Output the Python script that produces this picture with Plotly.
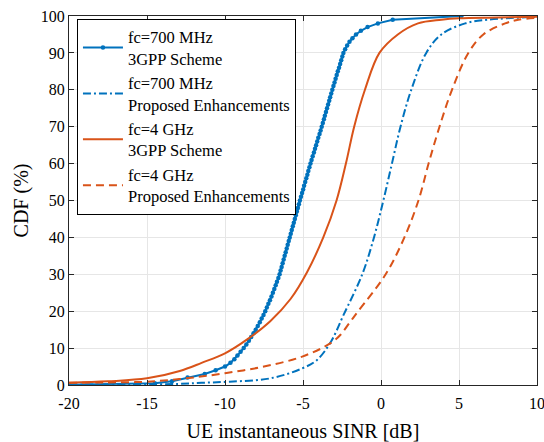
import plotly.graph_objects as go

# ---- data ----
# fc=700 MHz, 3GPP Scheme (CDF levels 0..100 %)
b3_y = [0.1, 0.5] + list(range(1, 101))
b3_x = [-20.0, -14.5,
        -13.4, -12.4, -11.3, -10.6, -10.0, -9.65, -9.4, -9.2, -9.0, -8.8,
        -8.63, -8.47, -8.32, -8.17, -8.03, -7.9, -7.77, -7.65, -7.53, -7.42,
        -7.32, -7.22, -7.12, -7.02, -6.93, -6.84, -6.75, -6.67, -6.58, -6.5,
        -6.435, -6.37, -6.305, -6.24, -6.175, -6.11, -6.045, -5.98, -5.915, -5.85,
        -5.785, -5.72, -5.655, -5.59, -5.525, -5.46, -5.395, -5.33, -5.265, -5.2,
        -5.13, -5.06, -4.99, -4.93, -4.86, -4.79, -4.72, -4.66, -4.59, -4.52,
        -4.45, -4.38, -4.30, -4.23, -4.16, -4.09, -4.02, -3.94, -3.87, -3.8,
        -3.73, -3.66, -3.60, -3.53, -3.46, -3.39, -3.32, -3.26, -3.19, -3.12,
        -3.05, -2.98, -2.91, -2.84, -2.77, -2.69, -2.62, -2.55, -2.48, -2.41,
        -2.3, -2.17, -2.02, -1.83, -1.6, -1.29, -0.86, -0.2, 0.75, 5.16]

# fc=700 MHz, Proposed Enhancements
bp_x = [-20, -16, -13, -11.5, -9.7, -7.1, -5.05, -4.1, -3.2, -2.4, -1.2,
        -0.45, 0.15, 0.7, 1.25, 1.94, 2.9, 3.87, 5.4, 6.9, 10]
bp_y = [0.1, 0.15, 0.3, 0.6, 0.9, 1.8, 4.5, 6.8, 11.8, 19, 30,
        40, 50, 60, 70, 80, 90, 95, 98, 99, 99.8]

# fc=4 GHz, 3GPP Scheme
o3_x = [-20, -17.5, -15, -12.9, -11.5, -10, -8.6, -7.1, -5.8, -4.75,
        -3.7, -2.85, -2.25, -1.72, -1.03, -0.1, 1.08, 2.37, 3.87, 5, 7.5, 10]
o3_y = [0.6, 1.0, 1.8, 3.8, 6.0, 8.6, 12.3, 17.3, 23.3, 30.5,
        40, 50, 60, 70, 80, 90, 95, 98, 99, 99.4, 99.6, 99.8]

# fc=4 GHz, Proposed Enhancements
op_x = [-20, -17.5, -15, -12.5, -10, -7.5, -5.05, -3.2, -2.58, -2.0, -1.46,
        0.3, 1.5, 2.4, 3.05, 3.75, 4.55, 5.6, 6.56, 7.96, 8.8, 10]
op_y = [0.6, 0.7, 0.9, 1.8, 3.2, 5.0, 7.7, 11.4, 13.7, 17, 20,
        30, 40, 50, 60, 70, 80, 90, 95, 98, 99, 99.5]

names = ["fc=700 MHz<br>3GPP Scheme",
         "fc=700 MHz<br>Proposed Enhancements",
         "fc=4 GHz<br>3GPP Scheme",
         "fc=4 GHz<br>Proposed Enhancements"]

x_ticks = [-20, -15, -10, -5, 0, 5, 10]
x_tick_text = ["-20", "-15", "-10", "-5", "0", "5", "10"]
y_ticks = [0, 10, 20, 30, 40, 50, 60, 70, 80, 90, 100]

BLUE = "#0072BD"
ORANGE = "#D95319"
FONT = "Liberation Serif, Times New Roman, DejaVu Serif, serif"

fig = go.Figure()
fig.add_trace(go.Scatter(x=b3_x, y=b3_y, name=names[0], mode="lines+markers",
                         line=dict(color=BLUE, width=2),
                         marker=dict(color=BLUE, size=4.5, symbol="circle")))
fig.add_trace(go.Scatter(x=bp_x, y=bp_y, name=names[1], mode="lines",
                         line=dict(color=BLUE, width=2, dash="8px,3px,2px,3px"),
                         line_shape="spline"))
fig.add_trace(go.Scatter(x=o3_x, y=o3_y, name=names[2], mode="lines",
                         line=dict(color=ORANGE, width=2),
                         line_shape="spline"))
fig.add_trace(go.Scatter(x=op_x, y=op_y, name=names[3], mode="lines",
                         line=dict(color=ORANGE, width=2, dash="8px,5px"),
                         line_shape="spline"))

axis_common = dict(showline=True, linecolor="#262626", linewidth=1, mirror="ticks",
                   ticks="inside", ticklen=5, tickcolor="#262626",
                   showgrid=True, gridcolor="#E6E6E6", gridwidth=1,
                   zeroline=False, ticklabeloverflow="allow", automargin=False,
                   tickfont=dict(family=FONT, size=16, color="#000"))

fig.update_xaxes(range=[-20, 10], tickvals=x_ticks, ticktext=x_tick_text,
                 ticklabelstandoff=4,
                 title=dict(text="UE instantaneous SINR [dB]",
                            font=dict(family=FONT, size=20, color="#000"), standoff=12),
                 **axis_common)
fig.update_yaxes(range=[0, 100], tickvals=y_ticks,
                 title=dict(text="CDF (%)", font=dict(family=FONT, size=20, color="#000"),
                            standoff=6),
                 **axis_common)

fig.update_layout(
    width=544, height=442,
    margin=dict(l=69, r=7, t=16, b=57),
    paper_bgcolor="white", plot_bgcolor="white",
    font=dict(family=FONT, color="#000"),
    legend=dict(x=0.017, y=0.993, xanchor="left", yanchor="top",
                bgcolor="white", bordercolor="#000", borderwidth=1,
                font=dict(family=FONT, size=16.5, color="#000"),
                itemwidth=40, tracegroupgap=0),
    showlegend=True,
)

fig.write_html("out.html")
